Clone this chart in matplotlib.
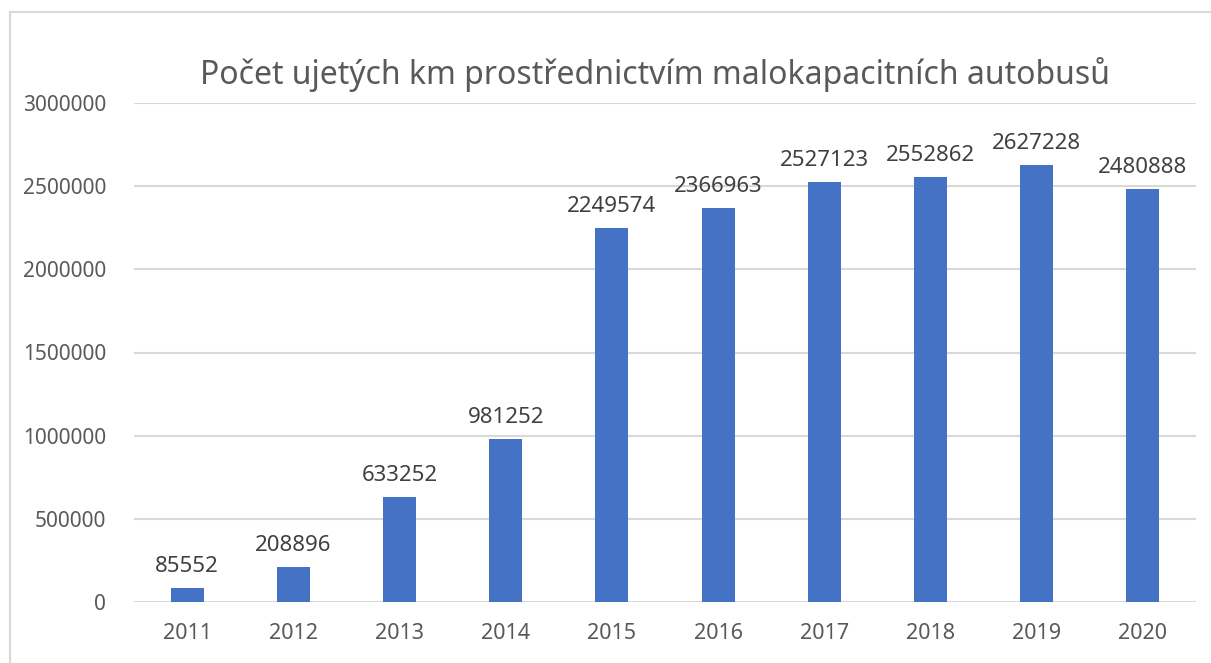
import matplotlib
matplotlib.use("Agg")
import matplotlib.pyplot as plt
from matplotlib.patches import Rectangle

years = ["2011", "2012", "2013", "2014", "2015", "2016", "2017", "2018", "2019", "2020"]
km = [85552, 208896, 633252, 981252, 2249574, 2366963, 2527123, 2552862, 2627228, 2480888]
yticks = [0, 500000, 1000000, 1500000, 2000000, 2500000, 3000000]
title = "Počet ujetých km prostřednictvím malokapacitních autobusů"

plt.rcParams['font.family'] = ['Noto Sans', 'DejaVu Sans']

fig = plt.figure(figsize=(12.11, 6.63), dpi=100)
fig.patch.set_facecolor("white")
# outer chart border
fig.add_artist(Rectangle((10/1211, -0.1), 1.2, 1 - 12/663 + 0.1, transform=fig.transFigure,
                         fill=False, edgecolor="#d9d9d9", linewidth=1.5))

ax = fig.add_axes([134/1211, 1 - 602/663, (1196 - 134)/1211, (602 - 103)/663])
x = range(len(years))
bars = ax.bar(x, km, width=0.31, color="#4472C4", zorder=3)
ax.set_xlim(-0.5, len(years) - 0.5)
ax.set_ylim(0, 3000000)
ax.set_yticks(yticks)
ax.set_yticklabels([str(v) for v in yticks])
ax.set_xticks(list(x))
ax.set_xticklabels(years)
ax.grid(axis="y", color="#d9d9d9", linewidth=1.5, zorder=0)
for s in ax.spines.values():
    s.set_visible(False)
ax.tick_params(axis="y", length=0, labelsize=15, colors="#595959", pad=20)
ax.tick_params(axis="x", length=0, labelsize=15.5, colors="#595959", pad=15)

for xi, v in zip(x, km):
    ax.annotate(str(v), (xi, v), xytext=(0, 8), textcoords="offset points",
                ha="center", va="bottom", fontsize=16, color="#404040")

fig.text(655/1211, 1 - 75/663, title, ha="center", va="center", fontsize=23, color="#595959")

fig.savefig("out.png", dpi=100)
